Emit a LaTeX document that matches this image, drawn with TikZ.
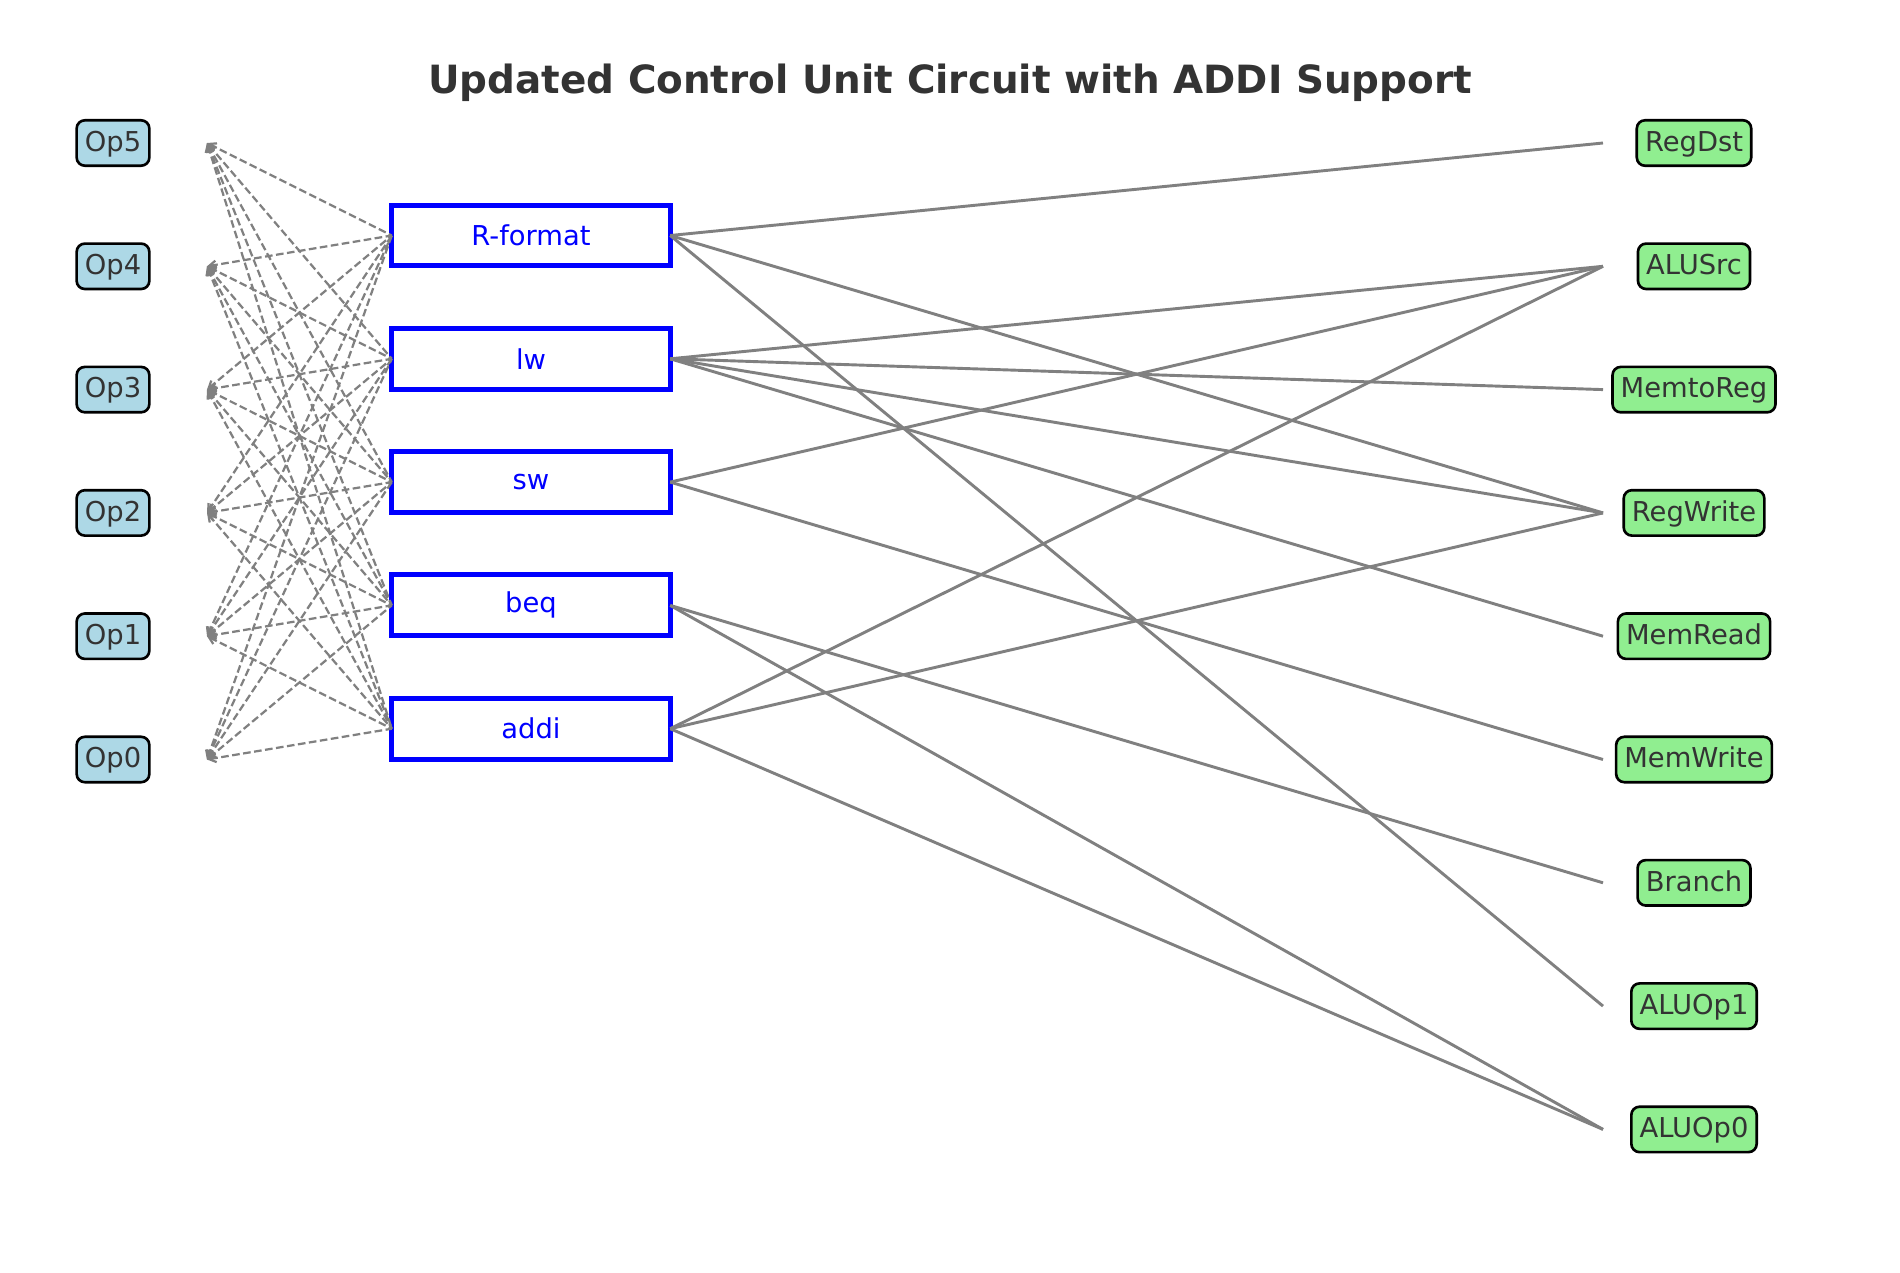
\documentclass[tikz,border=0pt]{standalone}
\usepackage{fontspec}
\setmainfont{DejaVu Sans}
\usetikzlibrary{arrows.meta}
\definecolor{txt}{HTML}{333333}
\definecolor{lblue}{HTML}{ADD8E6}
\definecolor{lgreen}{HTML}{90EE90}
\definecolor{lgray}{HTML}{808080}
\begin{document}
\begin{tikzpicture}[x=0.72pt,y=-0.72pt,
  lbl/.style={draw=black, line width=1.9pt, rounded corners=5.9pt, inner xsep=5.9pt, inner ysep=5.6pt,
    text height=16.7pt, text depth=4.8pt, text=txt, font=\fontsize{19.7}{23}\selectfont},
  inp/.style={lbl, fill=lblue},
  outp/.style={lbl, fill=lgreen},
  instr/.style={draw=blue, line width=3.6pt, minimum width=200.5pt, minimum height=43.9pt,
    inner sep=0pt, outer sep=0pt, text=blue, font=\fontsize{19.7}{23}\selectfont},
  dline/.style={draw=lgray, line width=1.6pt, dash pattern=on 5.5pt off 2.5pt,
    arrows={Straight Barb[length=5pt,width=6pt]-}},
  sline/.style={draw=lgray, line width=2.1pt},
  ttl/.style={font=\fontsize{28}{33}\selectfont\bfseries, text=txt}]
\useasboundingbox (0,0) rectangle (1900,1272);
\fill[white] (0,0) rectangle (1900,1272);

\node[ttl, anchor=base] (title) at (950,93.3) {Updated Control Unit Circuit with ADDI Support};

% inputs
\foreach \n/\t/\k in {op5/Op5/0, op4/Op4/1, op3/Op3/2, op2/Op2/3, op1/Op1/4, op0/Op0/5} {
  \node[inp] (\n) at (113,{143+123.3*\k}) {\t};
  \coordinate (c\n) at (207,{143+123.3*\k});
}

% instruction decoders
\foreach \n/\t/\k in {rf/R-format/0, lw/lw/1, sw/sw/2, beq/beq/3, addi/addi/4} {
  \node[instr] (\n) at (531,{235.5+123.3*\k}) {\t};
}

% outputs
\foreach \n/\k in {RegDst/0, ALUSrc/1, MemtoReg/2, RegWrite/3, MemRead/4, MemWrite/5, Branch/6, ALUOp1/7, ALUOp0/8} {
  \node[outp] (\n) at (1694,{143+123.3*\k}) {\n};
  \coordinate (c\n) at (1603,{143+123.3*\k});
}

% dashed decoder inputs
\foreach \o in {op5,op4,op3,op2,op1,op0} {
  \foreach \i in {rf,lw,sw,beq,addi} {
    \draw[dline] (c\o) -- (\i.west);
  }
}

% control outputs
\draw[sline] (rf.east) -- (cRegDst);
\draw[sline] (rf.east) -- (cRegWrite);
\draw[sline] (rf.east) -- (cALUOp1);
\draw[sline] (lw.east) -- (cALUSrc);
\draw[sline] (lw.east) -- (cMemtoReg);
\draw[sline] (lw.east) -- (cRegWrite);
\draw[sline] (lw.east) -- (cMemRead);
\draw[sline] (sw.east) -- (cALUSrc);
\draw[sline] (sw.east) -- (cMemWrite);
\draw[sline] (beq.east) -- (cBranch);
\draw[sline] (beq.east) -- (cALUOp0);
\draw[sline] (addi.east) -- (cALUSrc);
\draw[sline] (addi.east) -- (cRegWrite);
\draw[sline] (addi.east) -- (cALUOp0);
\end{tikzpicture}
\end{document}
